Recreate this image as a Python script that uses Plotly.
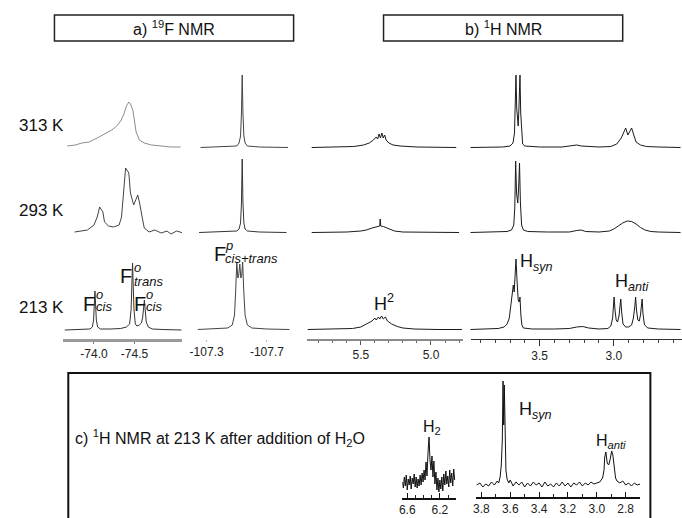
import plotly.graph_objects as go

W, H = 682, 518
FONT = "Liberation Sans, Arial, Helvetica, sans-serif"

# ------------------------------------------------------------------
# DATA  (chemical shift in ppm, relative intensity)
# ------------------------------------------------------------------
temperatures = ["313 K", "293 K", "213 K"]

# a) 19F NMR, region around -74.5 ppm
a1_313_ppm = [-73.67, -73.77, -73.85, -73.94, -74.04, -74.13, -74.22, -74.28, -74.33, -74.37, -74.40,
              -74.43, -74.45, -74.48, -74.50, -74.52, -74.56, -74.62, -74.71, -74.83, -74.95, -75.07]
a1_313_int = [2, 3, 5, 6, 10, 14, 18, 22, 27, 34, 42, 46, 44, 38, 28, 16, 8, 5, 3, 2, 1, 1]

a1_293_ppm = [-73.76, -73.92, -74.00, -74.04, -74.07, -74.11, -74.13, -74.18, -74.24, -74.31, -74.34,
              -74.37, -74.39, -74.43, -74.45, -74.49, -74.50, -74.54, -74.56, -74.60, -74.62, -74.68,
              -74.75, -74.83, -74.90, -74.95, -75.02, -75.10]
a1_293_int = [1, 3, 8, 16, 26, 21, 11, 7, 6, 8, 16, 43, 65, 60, 40, 28, 30, 38, 31, 15, 5, 1,
              3, 0, 2, -1, 2, 0]

a1_213_ppm = [-73.64, -73.80, -73.95, -73.98, -73.995, -74.004, -74.012, -74.020, -74.029, -74.045,
              -74.08, -74.20, -74.33, -74.40, -74.44, -74.458, -74.468, -74.476, -74.484, -74.494,
              -74.51, -74.53, -74.56, -74.585, -74.60, -74.612, -74.622, -74.632, -74.645, -74.67,
              -74.72, -74.85, -75.08]
a1_213_int = [0, 0.5, 1, 3, 10, 25, 39, 25, 10, 3, 1, 1, 1.5, 3, 6, 20, 45, 67, 45, 20,
              6, 4, 5, 7, 12, 22, 30, 20, 8, 3, 1, 0.5, 0]

# a) 19F NMR, region around -107.5 ppm
a2_313_ppm = [-107.26, -107.35, -107.45, -107.50, -107.515, -107.525, -107.531, -107.536, -107.541,
              -107.547, -107.555, -107.57, -107.65, -107.75, -107.84]
a2_313_int = [0.5, 1, 1, 2, 5, 12, 35, 73, 35, 12, 5, 2, 1, 0.5, 0.5]

a2_293_ppm = [-107.25, -107.35, -107.45, -107.50, -107.515, -107.525, -107.531, -107.536, -107.541,
              -107.547, -107.555, -107.57, -107.65, -107.75, -107.83]
a2_293_int = [0.5, 1, 1, 2, 4, 10, 30, 74, 30, 10, 4, 2, 1, 0.5, 0.5]

a2_213_ppm = [-107.24, -107.35, -107.44, -107.47, -107.485, -107.493, -107.500, -107.507, -107.513,
              -107.520, -107.527, -107.533, -107.539, -107.546, -107.555, -107.57, -107.60, -107.70,
              -107.85]
a2_213_int = [0.5, 1, 2, 5, 15, 40, 68, 52, 55, 66, 52, 55, 68, 40, 15, 5, 2, 1, 0.5]

# b) 1H NMR, H2 region
b1_313_ppm = [5.85, 5.70, 5.55, 5.48, 5.44, 5.41, 5.39, 5.38, 5.37, 5.36, 5.35, 5.34, 5.33, 5.32,
              5.30, 5.27, 5.22, 5.10, 5.00, 4.90, 4.82]
b1_313_int = [0.5, 1, 1.5, 3, 5, 8, 11, 9, 14, 10, 15, 10, 13, 8, 5, 3, 2, 1, 1, 1, 0.5]

b1_293_ppm = [5.85, 5.60, 5.50, 5.46, 5.42, 5.38, 5.365, 5.362, 5.358, 5.34, 5.30, 5.26, 5.20, 4.80]
b1_293_int = [0.5, 1, 2, 3, 5, 6.5, 7, 14, 7, 6.5, 4, 2, 1, 0.5]

b1_213_ppm = [5.88, 5.70, 5.56, 5.50, 5.46, 5.42, 5.40, 5.39, 5.375, 5.365, 5.352, 5.34, 5.325,
              5.31, 5.28, 5.24, 5.20, 5.12, 4.95, 4.78]
b1_213_int = [0.5, 1, 1.5, 3, 6, 9, 12, 10, 13, 11, 14, 11, 13, 9, 6, 3.5, 2, 1, 0.5, 0.5]

# b) 1H NMR, Hsyn / Hanti region
b2_313_ppm = [3.97, 3.85, 3.75, 3.70, 3.68, 3.670, 3.665, 3.660, 3.655, 3.650, 3.645, 3.640, 3.633,
              3.628, 3.622, 3.615, 3.60, 3.50, 3.35, 3.28, 3.25, 3.22, 3.10, 3.02, 2.98, 2.95, 2.93,
              2.92, 2.905, 2.89, 2.88, 2.865, 2.85, 2.82, 2.78, 2.70, 2.55]
b2_313_int = [0.5, 1, 1, 2, 5, 15, 35, 73, 40, 25, 22, 40, 73, 35, 12, 4, 2, 1, 1, 2, 3, 2, 1, 1.5,
              4, 10, 17, 20, 13, 18, 20, 13, 6, 3, 1.5, 1, 0.5]

b2_293_ppm = [3.97, 3.80, 3.72, 3.69, 3.675, 3.668, 3.662, 3.656, 3.648, 3.642, 3.636, 3.630, 3.622,
              3.61, 3.58, 3.45, 3.30, 3.25, 3.22, 3.19, 3.10, 3.03, 3.00, 2.97, 2.94, 2.91, 2.88,
              2.85, 2.82, 2.79, 2.75, 2.70, 2.55]
b2_293_int = [0.5, 1, 1.5, 3, 8, 25, 72, 40, 30, 45, 70, 30, 8, 3, 1.5, 1, 1, 2.5, 3, 1.5, 1, 2,
              4, 7, 10, 12, 11.5, 9, 5.5, 3, 1.5, 1, 0.5]

b2_213_ppm = [3.97, 3.85, 3.78, 3.74, 3.72, 3.705, 3.695, 3.685, 3.678, 3.672, 3.667, 3.660, 3.653,
              3.645, 3.638, 3.633, 3.627, 3.62, 3.61, 3.55, 3.40, 3.30, 3.25, 3.21, 3.17, 3.10,
              3.04, 3.02, 3.008, 3.003, 2.998, 2.992, 2.984, 2.975, 2.965, 2.958, 2.953, 2.947,
              2.938, 2.92, 2.90, 2.88, 2.868, 2.858, 2.853, 2.847, 2.838, 2.828, 2.82, 2.814, 2.809,
              2.803, 2.793, 2.77, 2.70, 2.55]
b2_213_int = [0.5, 1, 1.5, 3, 6, 12, 25, 40, 45, 38, 50, 71, 50, 30, 28, 33, 15, 5, 2, 1, 1, 1.5,
              3, 3.5, 2, 1, 1.5, 4, 12, 24, 33, 20, 10, 8, 14, 24, 31, 18, 6, 3, 3, 5, 12, 24, 33,
              20, 10, 9, 15, 24, 31, 16, 5, 2, 1, 0.5]

# c) 1H NMR at 213 K after addition of H2O
c1_ppm = [6.661, 6.648, 6.636, 6.624, 6.612, 6.600, 6.588, 6.576, 6.564, 6.552, 6.539, 6.527, 6.515,
          6.503, 6.491, 6.479, 6.467, 6.455, 6.442, 6.430, 6.418, 6.406, 6.394, 6.382, 6.370, 6.358,
          6.345, 6.333, 6.321, 6.309, 6.297, 6.285, 6.273, 6.261, 6.248, 6.236, 6.224, 6.212, 6.200,
          6.188, 6.176, 6.164, 6.152, 6.139, 6.127, 6.115, 6.103, 6.091, 6.079, 6.067, 6.055, 6.042,
          6.030, 6.018]
c1_int = [0, -6, 5, -4, 7, -8, 3, -3, 6, -7, 4, -2, 8, -5, 5, -6, 3, -4, 7, -3, 9, 0, 12, 2, 20, 6,
          30, 45, 22, 12, 26, 5, 21, -2, 10, -8, 4, -10, 2, -7, 5, -9, 8, -3, 11, -2, 6, -5, 12, -1,
          9, -4, 13, 2]

c2_ppm = [3.834, 3.81, 3.79, 3.77, 3.75, 3.73, 3.71, 3.69, 3.68, 3.67, 3.662, 3.655, 3.650, 3.645,
          3.641, 3.636, 3.630, 3.622, 3.61, 3.60, 3.58, 3.56, 3.54, 3.52, 3.50, 3.48, 3.46, 3.44,
          3.42, 3.40, 3.38, 3.36, 3.34, 3.32, 3.30, 3.28, 3.26, 3.24, 3.22, 3.20, 3.18, 3.16, 3.14,
          3.12, 3.10, 3.08, 3.06, 3.04, 3.02, 3.00, 2.98, 2.96, 2.95, 2.945, 2.937, 2.928, 2.918,
          2.910, 2.897, 2.889, 2.880, 2.870, 2.86, 2.84, 2.82, 2.80, 2.78, 2.76, 2.74, 2.72, 2.70]
c2_int = [0, 2, -2, 1, -1, 3, 0, 4, 2, 8, 20, 45, 104, 60, 100, 40, 15, 6, 2, 5, -1, 3, 0, 3, -2,
          2, -1, 3, 0, 2, -2, 3, -1, 1, -2, 2, -1, 3, -1, 2, -2, 2, 0, 3, -1, 2, 0, 3, 1, 2, 3, 7,
          15, 28, 33, 22, 20, 24, 34, 30, 15, 7, 4, 2, 4, 0, 2, -1, 2, 0, 1]

# tick labels
a1_ticks = [-74.0, -74.5]
a2_ticks = [-107.3, -107.7]


# ------------------------------------------------------------------
# LAYOUT helpers (pixel -> paper)
# ------------------------------------------------------------------
def px(x):
    return x / W


def py(y):
    return 1 - y / H


def lin_range(v1, p1, v2, p2, d0, d1):
    s = (v2 - v1) / (p2 - p1)
    return [v1 + (d0 - p1) * s, v1 + (d1 - p1) * s]


COLS = {
    "a1": dict(dom=(56, 176), rng=lin_range(-74.0, 87, -74.5, 128, 56, 176)),
    "a2": dict(dom=(192, 286), rng=lin_range(-107.3, 201, -107.7, 262, 192, 286)),
    "b1": dict(dom=(303, 460), rng=lin_range(5.5, 357, 5.0, 428, 303, 460)),
    "b2": dict(dom=(468, 682), rng=lin_range(3.5, 538, 3.0, 613, 468, 682)),
    "c1": dict(dom=(399, 453), rng=lin_range(6.6, 404, 6.2, 437, 399, 453)),
    "c2": dict(dom=(474, 640), rng=lin_range(3.8, 479, 2.8, 625, 474, 640)),
}
ROWS = {
    "313 K": dict(dom=(152, 68), rng=[-4, 80]),
    "293 K": dict(dom=(237, 153), rng=[-4, 80]),
    "213 K": dict(dom=(339, 250), rng=[-9, 80]),
    "c1": dict(dom=(498, 430), rng=[-16, 52]),
    "c2": dict(dom=(497, 375), rng=[-12, 110]),
}

DARK = "#1a1a1a"
cells = [
    ("a1", "313 K", a1_313_ppm, a1_313_int, "#8c8c8c"),
    ("a1", "293 K", a1_293_ppm, a1_293_int, "#444444"),
    ("a1", "213 K", a1_213_ppm, a1_213_int, "#333333"),
    ("a2", "313 K", a2_313_ppm, a2_313_int, "#444444"),
    ("a2", "293 K", a2_293_ppm, a2_293_int, "#333333"),
    ("a2", "213 K", a2_213_ppm, a2_213_int, "#444444"),
    ("b1", "313 K", b1_313_ppm, b1_313_int, DARK),
    ("b1", "293 K", b1_293_ppm, b1_293_int, DARK),
    ("b1", "213 K", b1_213_ppm, b1_213_int, DARK),
    ("b2", "313 K", b2_313_ppm, b2_313_int, DARK),
    ("b2", "293 K", b2_293_ppm, b2_293_int, DARK),
    ("b2", "213 K", b2_213_ppm, b2_213_int, DARK),
    ("c1", "c1", c1_ppm, c1_int, "#111111"),
    ("c2", "c2", c2_ppm, c2_int, "#111111"),
]

fig = go.Figure()
layout = {}
tickfont = dict(family=FONT, size=12, color="#222")

for i, (col, row, xs, ys, color) in enumerate(cells, start=1):
    xa = "x" if i == 1 else f"x{i}"
    ya = "y" if i == 1 else f"y{i}"
    fig.add_trace(go.Scatter(x=xs, y=ys, mode="lines", xaxis=xa, yaxis=ya,
                             line=dict(color=color, width=1), hoverinfo="skip",
                             showlegend=False))
    c = COLS[col]
    r = ROWS[row]
    xaxis = dict(domain=[px(c["dom"][0]), px(c["dom"][1])], range=c["rng"],
                 anchor=ya, showgrid=False, zeroline=False, fixedrange=True,
                 tickfont=tickfont, showline=False, showticklabels=False, ticks="",
                 tickformat=".1f")
    bottom = row in ("213 K", "c1", "c2")
    if bottom:
        xaxis["showticklabels"] = True
        if col == "a1":
            xaxis.update(tickmode="array", tickvals=a1_ticks,
                         ticktext=[f"{v:.1f}" for v in a1_ticks],
                         showline=True, linecolor="#9a9a9a", linewidth=2.5,
                         ticks="outside", ticklen=2, tickcolor="#777")
        elif col == "a2":
            xaxis.update(tickmode="array", tickvals=a2_ticks,
                         ticktext=[f"{v:.1f}" for v in a2_ticks],
                         ticks="outside", ticklen=2, tickcolor="#bbb")
        elif col == "b1":
            xaxis.update(tickmode="linear", tick0=5.0, dtick=0.5,
                         showline=True, linecolor="#8a8a8a", linewidth=1.5,
                         ticks="outside", ticklen=4, tickcolor="#555",
                         minor=dict(dtick=0.1, tick0=5.0, ticks="outside", ticklen=2,
                                    tickcolor="#666"))
        elif col == "b2":
            xaxis.update(tickmode="linear", tick0=3.0, dtick=0.5,
                         showline=True, linecolor="#333", linewidth=1,
                         ticks="outside", ticklen=6, tickcolor="#333",
                         minor=dict(dtick=0.1, tick0=3.0, ticks="outside", ticklen=3,
                                    tickcolor="#444"))
        elif col == "c1":
            xaxis.update(tickmode="linear", tick0=6.2, dtick=0.4,
                         showline=True, linecolor="#111", linewidth=1.5,
                         ticks="inside", ticklen=5, tickcolor="#111",
                         minor=dict(dtick=0.1, tick0=6.2, ticks="inside", ticklen=3,
                                    tickcolor="#222"))
        elif col == "c2":
            xaxis.update(tickmode="linear", tick0=2.8, dtick=0.2,
                         showline=True, linecolor="#111", linewidth=1.5,
                         ticks="inside", ticklen=5, tickcolor="#111",
                         minor=dict(dtick=0.1, tick0=2.8, ticks="inside", ticklen=3,
                                    tickcolor="#222"))
    yaxis = dict(domain=[py(r["dom"][0]), py(r["dom"][1])], range=r["rng"],
                 anchor=xa, visible=False, fixedrange=True)
    layout["xaxis" if i == 1 else f"xaxis{i}"] = xaxis
    layout["yaxis" if i == 1 else f"yaxis{i}"] = yaxis

# ------------------------------------------------------------------
# Text annotations
# ------------------------------------------------------------------
ann = []


def text(x, y, t, size, xanchor="left", yanchor="middle", italic=False):
    if italic:
        t = f"<i>{t}</i>"
    ann.append(dict(x=px(x), y=py(y), xref="paper", yref="paper", text=t, showarrow=False,
                    xanchor=xanchor, yanchor=yanchor, borderpad=0,
                    font=dict(family=FONT, size=size, color="#111")))


# header boxes
text(168, 28, "a) <sup>19</sup>F NMR", 16, xanchor="center")
text(501, 28, "b) <sup>1</sup>H NMR", 16, xanchor="center")

# temperatures
for label, yc in zip(temperatures, [126, 211, 307]):
    text(10, yc, label, 17)

# 19F peak labels (letter + stacked super/subscripts)
text(75, 304, "F", 20)
text(88, 294, "o", 13, italic=True)
text(88, 306, "cis", 13, italic=True)
text(112, 276, "F", 20)
text(126, 267, "o", 13, italic=True)
text(126, 281, "trans", 13, italic=True)
text(126, 304, "F", 20)
text(139, 294, "o", 13, italic=True)
text(139, 306, "cis", 13, italic=True)
text(207, 254, "F", 20)
text(219, 246, "p", 13, italic=True)
text(219, 258, "cis+trans", 13, italic=True)

# 1H peak labels
text(369, 302, "H<sup>2</sup>", 18)
text(517, 262, "H<sub><i>syn</i></sub>", 18)
text(613, 282, "H<sub><i>anti</i></sub>", 18)

# panel c labels
text(67, 438, "c) <sup>1</sup>H NMR at 213 K after addition of H<sub>2</sub>O", 16)
text(419, 427, "H<sub>2</sub>", 16)
text(516, 410, "H<sub><i>syn</i></sub>", 18)
text(594, 441, "H<sub><i>anti</i></sub>", 16)

# ------------------------------------------------------------------
# Boxes
# ------------------------------------------------------------------
shapes = [
    dict(type="rect", xref="paper", yref="paper", x0=px(47), x1=px(289), y0=py(41), y1=py(15),
         line=dict(color="#222", width=1.5)),
    dict(type="rect", xref="paper", yref="paper", x0=px(380), x1=px(622), y0=py(41), y1=py(15),
         line=dict(color="#222", width=1.5)),
    dict(type="rect", xref="paper", yref="paper", x0=px(61), x1=px(650), y0=py(540), y1=py(373),
         line=dict(color="#111", width=2)),
]

fig.update_layout(
    width=W, height=H, margin=dict(l=0, r=0, t=0, b=0),
    paper_bgcolor="white", plot_bgcolor="rgba(0,0,0,0)",
    annotations=ann, shapes=shapes, showlegend=False,
    font=dict(family=FONT, color="#111"),
    **layout,
)

fig.write_html("out.html", config={"displayModeBar": False},
               post_script="document.body.style.margin='0';document.body.style.overflow='hidden';")
